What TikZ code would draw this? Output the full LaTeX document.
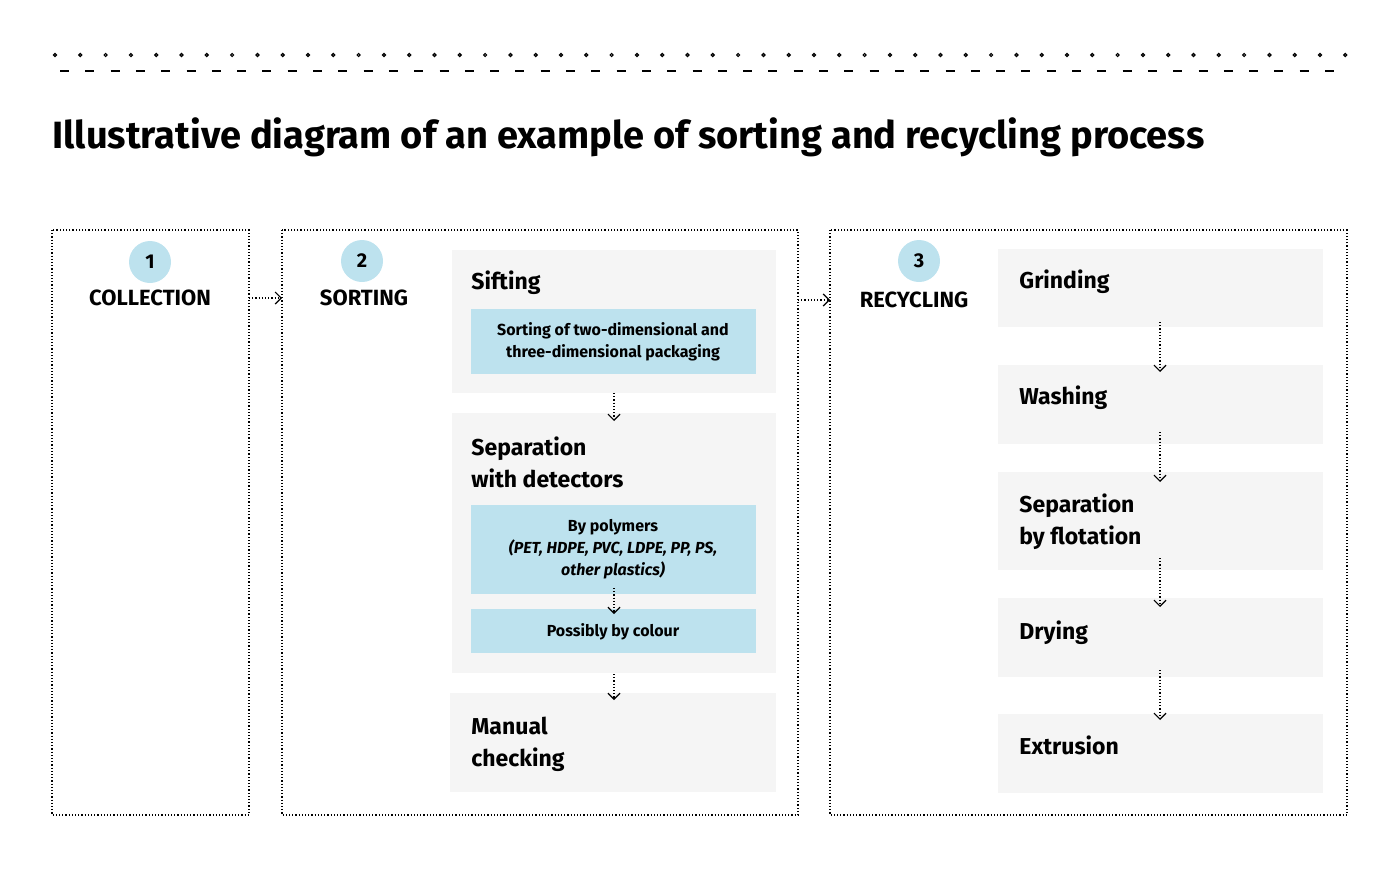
\documentclass[tikz,border=0pt]{standalone}
\usepackage{fontspec}
\setmainfont{Fira Sans}
\usetikzlibrary{arrows.meta}
\definecolor{panel}{HTML}{F5F5F5}
\definecolor{tag}{HTML}{BDE2EE}
\tikzset{
  frame/.style={draw, densely dotted, line width=0.6pt},
  graybox/.style={fill=panel},
  bluebox/.style={fill=tag},
  flow/.style={densely dotted, line width=0.6pt, -{Straight Barb[length=3pt,width=6pt]}},
  steplabel/.style={font=\bfseries\fontsize{11.5}{14}\selectfont, anchor=north west, align=left, inner sep=0pt},
  tagtext/.style={font=\bfseries\fontsize{8}{11}\selectfont, align=center, inner sep=0pt},
  badge/.style={circle, fill=tag, minimum size=21pt, inner sep=0pt, font=\bfseries\fontsize{10}{12}\selectfont},
  stage/.style={font=\bfseries\fontsize{11}{13}\selectfont, inner sep=0pt}
}
\begin{document}
\begin{tikzpicture}[x=0.5pt,y=-0.5pt]
\useasboundingbox (0,0) rectangle (1400,868);

% header ornament
\foreach \i in {0,...,51}
  \draw[line width=0.6pt] (55+25.3*\i,55) circle (1.5);
\foreach \i in {0,...,50}
  \draw[line width=0.8pt] (60+25.3*\i,71) -- ++(9,0);

% title
\node[anchor=west, inner sep=0pt, font=\bfseries\fontsize{19}{22}\selectfont] (title) at (52,137)
  {Illustrative diagram of an example of sorting and recycling process};

% stage frames
\draw[frame] (52,230) rectangle (249,815);
\draw[frame] (282,230) rectangle (798,815);
\draw[frame] (830,230) rectangle (1347,815);
\coordinate (f1e) at (249,298);
\coordinate (f2w) at (282,298);
\coordinate (f2e) at (798,300);
\coordinate (f3w) at (830,300);
\draw[flow] (f1e) -- (f2w);
\draw[flow] (f2e) -- (f3w);

% stage headings
\node[badge] (b1) at (150,262) {1};
\node[stage] (collection) at (150,298) {COLLECTION};
\node[badge] (b2) at (362,261) {2};
\node[stage] (sorting) at (364,298) {SORTING};
\node[badge] (b3) at (919,261) {3};
\node[stage] (recycling) at (914,300) {RECYCLING};

% sorting
\fill[graybox] (452,250) rectangle (776,393);
\fill[graybox] (452,413) rectangle (776,673);
\fill[graybox] (450,693) rectangle (776,792);
\node[steplabel] (sifting) at (471,270) {Sifting};
\node[steplabel] (separation) at (471,436) {Separation\\[2pt]with detectors};
\node[steplabel] (manual) at (471,717) {Manual\\[2pt]checking};
\fill[bluebox] (471,309) rectangle (756,374);
\fill[bluebox] (471,505) rectangle (756,594);
\fill[bluebox] (471,609) rectangle (756,653);
\node[tagtext] (dims) at (613,342) {Sorting of two-dimensional and\\three-dimensional packaging};
\node[tagtext] (polymers) at (613,549) {By polymers\\{\itshape (PET, HDPE, PVC, LDPE, PP, PS,}\\{\itshape other plastics)}};
\node[tagtext] (colour) at (613,632) {Possibly by colour};
\coordinate (s1) at (614,393); \coordinate (s2) at (614,421);
\coordinate (s3) at (614,588); \coordinate (s4) at (614,614);
\coordinate (s5) at (614,674); \coordinate (s6) at (614,700);
\draw[flow] (s1) -- (s2);
\draw[flow] (s3) -- (s4);
\draw[flow] (s5) -- (s6);

% recycling
\foreach \t/\b in {249/327,365/444,472/570,598/677,714/793}
  \fill[graybox] (998,\t) rectangle (1323,\b);
\node[steplabel] (grinding) at (1019,269) {Grinding};
\node[steplabel] (washing) at (1019,385) {Washing};
\node[steplabel] (flotation) at (1019,493) {Separation\\[2pt]by flotation};
\node[steplabel] (drying) at (1019,620) {Drying};
\node[steplabel] (extrusion) at (1019,735) {Extrusion};
\foreach \a/\z in {322/372,432/482,558/607,670/720}
  \draw[flow] (1160,\a) -- (1160,\z);
\end{tikzpicture}
\end{document}
